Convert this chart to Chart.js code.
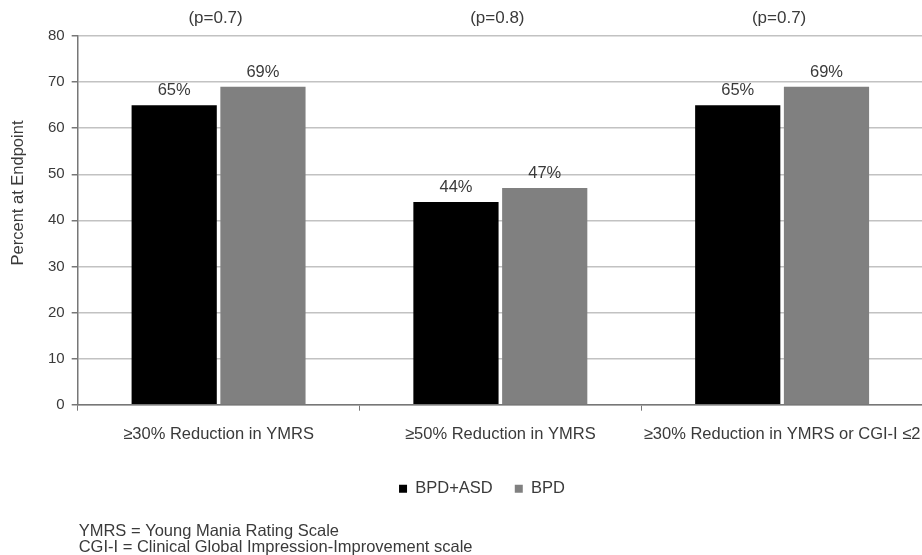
<!DOCTYPE html>
<html>
<head>
<meta charset="utf-8">
<script src="https://cdn.jsdelivr.net/npm/chart.js@4.4.1/dist/chart.umd.min.js"></script>
<style>
  html, body { margin: 0; padding: 0; background: #fff; overflow: hidden; }
  #wrap { width: 940px; height: 555px; }
</style>
</head>
<body>
<div id="wrap"><canvas id="chart"></canvas></div>
<script>
// data
const categories = ['≥30% Reduction in YMRS', '≥50% Reduction in YMRS', '≥30% Reduction in YMRS or CGI-I ≤2'];
const bpdAsd = [65, 44, 65];
const bpd = [69, 47, 69];
const pValues = ['(p=0.7)', '(p=0.8)', '(p=0.7)'];
const yTicks = [0, 10, 20, 30, 40, 50, 60, 70, 80];
const yTitle = 'Percent at Endpoint';
const footnotes = ['YMRS = Young Mania Rating Scale', 'CGI-I = Clinical Global Impression-Improvement scale'];

const txtColor = '#3a3a3a';
const fontFam = '"Liberation Sans", Arial, sans-serif';

// percent labels over the bars, p values above each group, y title, footnotes
const labelPlugin = {
    id: 'barLabels',
    afterDatasetsDraw(chart) {
        const ctx = chart.ctx;
        ctx.save();
        ctx.fillStyle = txtColor;
        ctx.font = '16.5px ' + fontFam;
        ctx.textAlign = 'center';
        ctx.textBaseline = 'bottom';
        chart.data.datasets.forEach((ds, i) => {
            const meta = chart.getDatasetMeta(i);
            meta.data.forEach((bar, j) => {
                ctx.fillText(ds.data[j] + '%', bar.x, bar.y - 6);
            });
        });
        const xs = chart.scales.x;
        ctx.textBaseline = 'middle';
        ctx.font = '17px ' + fontFam;
        pValues.forEach((p, i) => {
            ctx.fillText(p, xs.getPixelForValue(i) - 3, chart.chartArea.top - 18);
        });

        // footnotes under the legend, lined up with the y axis
        ctx.textAlign = 'left';
        ctx.font = '16.5px ' + fontFam;
        footnotes.forEach((f, i) => {
            ctx.fillText(f, chart.chartArea.left + 1, chart.height - 24 + i * 16);
        });

        // axis title sits a bit above the middle in the original
        ctx.textAlign = 'center';
        ctx.translate(18, chart.chartArea.top + 157);
        ctx.rotate(-Math.PI / 2);
        ctx.fillText(yTitle, 0, 0);
        ctx.restore();
    }
};

const myChart = new Chart(document.getElementById('chart'), {
    type: 'bar',
    data: {
        labels: categories,
        datasets: [
            { label: 'BPD+ASD', data: bpdAsd, backgroundColor: '#000000' },
            { label: 'BPD', data: bpd, backgroundColor: '#808080' }
        ]
    },
    plugins: [labelPlugin],
    options: {
        responsive: true,
        maintainAspectRatio: false,
        animation: false,
        layout: { padding: { top: 36, left: 41, right: 17, bottom: 48 } },
        datasets: {
            bar: { categoryPercentage: 0.63, barPercentage: 0.96 }
        },
        plugins: {
            legend: {
                position: 'bottom',
                labels: {
                    boxWidth: 8, boxHeight: 8, padding: 22,
                    color: txtColor,
                    font: { family: fontFam, size: 16.5 }
                }
            },
            tooltip: { enabled: false }
        },
        scales: {
            x: {
                grid: { display: true, drawOnChartArea: false, tickLength: 6, color: '#777' },
                border: { color: '#777', width: 1.5 },
                ticks: { color: txtColor, font: { family: fontFam, size: 16.5 }, padding: 14, maxRotation: 0, autoSkip: false }
            },
            y: {
                min: 0, max: 80,
                afterBuildTicks: axis => { axis.ticks = yTicks.map(v => ({ value: v })); },
                grid: { color: '#c2c2c2', lineWidth: 1.5, tickLength: 6, tickColor: '#777' },
                border: { color: '#777', width: 1.5 },
                ticks: { color: txtColor, font: { family: fontFam, size: 15 }, padding: 7 }
            }
        }
    }
});
</script>
</body>
</html>
